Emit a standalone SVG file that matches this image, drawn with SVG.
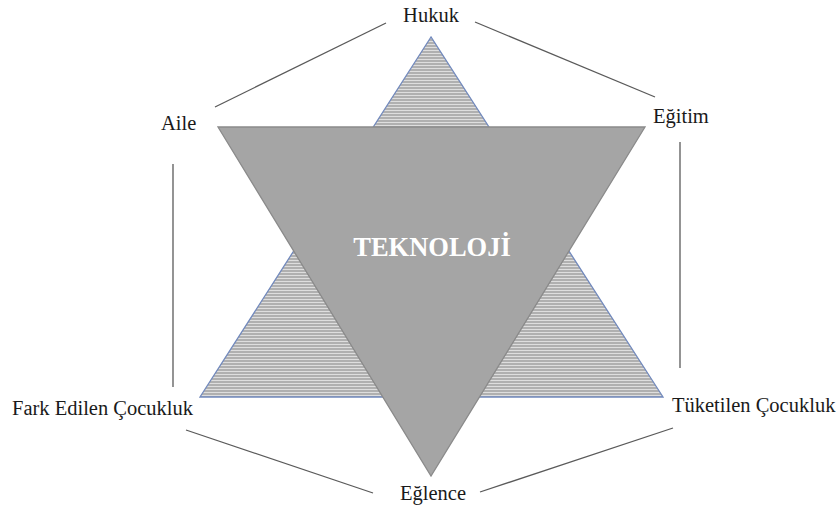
<svg xmlns="http://www.w3.org/2000/svg" width="837" height="509" viewBox="0 0 837 509">
<style>
.lbl{font-family:"Liberation Serif","Times New Roman",serif;font-size:20.5px;fill:#1a1a1a}
.edge{stroke:#5a5a5a;stroke-width:1.3;fill:none}
</style>
<defs>
<pattern id="hatch" patternUnits="userSpaceOnUse" width="10" height="3">
<rect width="10" height="3" fill="#b0b0b0"/>
<rect y="2" width="10" height="1" fill="#dedede"/>
</pattern>
</defs>
<rect width="837" height="509" fill="#ffffff"/>
<g id="connectors">
<line class="edge" x1="215" y1="107" x2="386" y2="23"/>
<line class="edge" x1="475" y1="22" x2="655" y2="97"/>
<line class="edge" x1="680" y1="142" x2="680" y2="368"/>
<line class="edge" x1="173" y1="164" x2="173" y2="387"/>
<line class="edge" x1="186" y1="430" x2="373" y2="493"/>
<line class="edge" x1="673" y1="428" x2="480" y2="492"/>
</g>
<g id="up-triangle">
<polygon points="431,37 200,397 663,397" fill="url(#hatch)" stroke="#7189bd" stroke-width="1.3"/>
</g>
<g id="teknoloji">
<polygon points="218,127 645,127 431,476" fill="#a5a5a5" stroke="#8a8a8a" stroke-width="1.3"/>
<text x="432" y="256" text-anchor="middle" font-family="Liberation Serif,'Times New Roman',serif" font-weight="bold" font-size="26.5" fill="#ffffff">TEKNOLOJİ</text>
</g>
<g id="hukuk"><text class="lbl" x="431" y="22" text-anchor="middle">Hukuk</text></g>
<g id="aile"><text class="lbl" x="161" y="130">Aile</text></g>
<g id="egitim"><text class="lbl" x="653" y="123">Eğitim</text></g>
<g id="fark"><text class="lbl" x="12" y="415">Fark Edilen Çocukluk</text></g>
<g id="tuketilen"><text class="lbl" x="672" y="412">Tüketilen Çocukluk</text></g>
<g id="eglence"><text class="lbl" x="400" y="500">Eğlence</text></g>
</svg>
